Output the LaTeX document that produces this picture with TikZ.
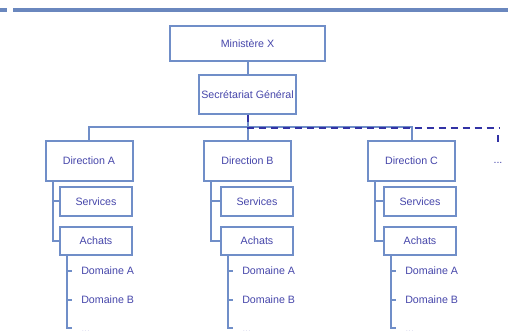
\documentclass[tikz,border=0pt]{standalone}
\usepackage{fontspec}
\setmainfont{Liberation Sans}
\definecolor{barblue}{RGB}{106,135,190}
\definecolor{lineblue}{RGB}{112,142,200}
\definecolor{textblue}{RGB}{70,70,170}
\definecolor{dashblue}{RGB}{50,50,165}
\begin{document}
\begin{tikzpicture}[
    x=0.75pt, y=-0.75pt,
    every node/.style={font=\fontsize{8}{9.6}\selectfont, text=textblue},
    top/.style={rectangle, minimum width=116.25pt, minimum height=26.25pt, inner sep=1pt, draw=lineblue, line width=1.5pt, fill=white},
    dir/.style={rectangle, minimum width=65.25pt, minimum height=30pt, inner sep=1pt, draw=lineblue, line width=1.5pt, fill=white},
    sub/.style={rectangle, minimum width=54pt, minimum height=21.5pt, inner sep=1pt, draw=lineblue, line width=1.5pt, fill=white},
    dom/.style={anchor=west, inner sep=0pt},
    link/.style={draw=lineblue, line width=1.5pt},
    dashlink/.style={draw=dashblue, line width=1.5pt, dash pattern=on 5.25pt off 3.75pt}
]
\useasboundingbox (0,0) rectangle (508,331);

% Title bar
\fill[barblue] (0,8) rectangle (7,12.3);
\fill[barblue] (13,8) rectangle (508,12.3);

% Ministry and general secretariat
\node[top] (min) at (247.5,43.5) {Ministère X};
\node[top, minimum width=72.75pt, minimum height=29.25pt] (sg) at (247.5,94.5) {Secrétariat Général};
\draw[link] (min) -- (sg);

% Directions
\node[dir] (dirA) at (89,161) {Direction A};
\node[dir] (dirB) at (247.5,161) {Direction B};
\node[dir] (dirC) at (411.5,161) {Direction C};
\node (more) at (498,163) {...};
\coordinate (ext) at (500,128);
\coordinate (extend) at (498,142);

\draw[link] (sg) -- (dirB);
\draw[link] (dirA.north) -- ++(0,-13) -| (dirC.north);
\draw[dashlink] (sg.south) |- (ext);
\draw[dashlink] (extend) -- ++(0,-8);

% Services and purchasing
\node[sub] (srvA) at (96,201.5) {Services};
\node[sub] (achA) at (96,241) {Achats};
\node[sub] (srvB) at (257,201.5) {Services};
\node[sub] (achB) at (257,241) {Achats};
\node[sub] (srvC) at (420,201.5) {Services};
\node[sub] (achC) at (420,241) {Achats};

\draw[link] ([xshift=6pt]dirA.south west) |- (srvA.west);
\draw[link] ([xshift=6pt]dirA.south west) |- (achA.west);
\draw[link] ([xshift=6pt]dirB.south west) |- (srvB.west);
\draw[link] ([xshift=6pt]dirB.south west) |- (achB.west);
\draw[link] ([xshift=6pt]dirC.south west) |- (srvC.west);
\draw[link] ([xshift=6pt]dirC.south west) |- (achC.west);

% Domains
\coordinate (trA) at ([xshift=6pt]achA.south west);
\coordinate (trB) at ([xshift=6pt]achB.south west);
\coordinate (trC) at ([xshift=6pt]achC.south west);

\node[dom] (domA1) at (81,271) {Domaine A};
\node[dom] (domA2) at (81,300) {Domaine B};
\node[dom] (domA3) at (81,332) {...};
\node[dom] (domB1) at (242,271) {Domaine A};
\node[dom] (domB2) at (242,300) {Domaine B};
\node[dom] (domB3) at (242,332) {...};
\node[dom] (domC1) at (405,271) {Domaine A};
\node[dom] (domC2) at (405,300) {Domaine B};
\node[dom] (domC3) at (405,332) {...};

\draw[link] (trA) -- (trA |- 0,328) -- ++(5,0);
\draw[link] (trA |- domA1.west) -- ++(5,0);
\draw[link] (trA |- domA2.west) -- ++(5,0);
\draw[link] (trB) -- (trB |- 0,328) -- ++(5,0);
\draw[link] (trB |- domB1.west) -- ++(5,0);
\draw[link] (trB |- domB2.west) -- ++(5,0);
\draw[link] (trC) -- (trC |- 0,328) -- ++(5,0);
\draw[link] (trC |- domC1.west) -- ++(5,0);
\draw[link] (trC |- domC2.west) -- ++(5,0);

\end{tikzpicture}
\end{document}
